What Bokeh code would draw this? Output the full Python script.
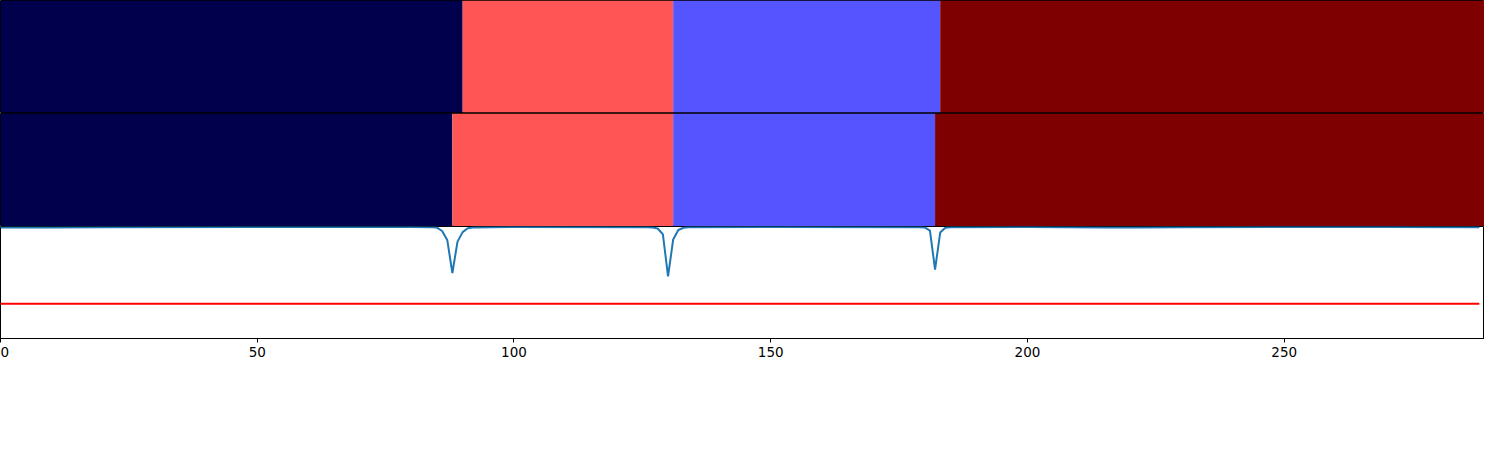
from bokeh.plotting import figure
from bokeh.layouts import column
from bokeh.models import ColumnDataSource, Range1d, FixedTicker
from bokeh.embed import file_html
from bokeh.resources import INLINE

# ---- data ----
row1_bounds = [0, 90, 131, 183, 289]
row2_bounds = [0, 88, 131, 182, 289]
seg_colors = ["#00004C", "#FF5555", "#5555FF", "#7F0000"]

line_x = [0, 10, 20, 60, 80, 84, 85, 86, 87, 88, 89, 90, 91, 92, 100,
          126, 127, 128, 129, 130, 131, 132, 133, 134, 150,
          179, 180, 181, 182, 183, 184, 185, 200, 215, 222, 230, 250, 270, 288]
line_y = [0.990, 0.991, 0.994, 0.995, 0.995, 0.993, 0.990, 0.960, 0.880, 0.585, 0.865, 0.950, 0.985, 0.992, 0.995,
          0.994, 0.991, 0.982, 0.929, 0.554, 0.884, 0.969, 0.989, 0.993, 0.995,
          0.994, 0.992, 0.964, 0.616, 0.946, 0.989, 0.993, 0.995, 0.992, 0.990, 0.993, 0.995, 0.995, 0.994]
thresh_x = [0, 288]
thresh_y = [0.31, 0.31]
x_ticks = [0, 50, 100, 150, 200, 250]

W = 1484
xr = Range1d(0, 289)


def seg_fig(bounds, h, bottom_border):
    p = figure(width=W, height=h, x_range=xr, y_range=Range1d(0, 1),
               output_backend="svg", toolbar_location=None,
               min_border_left=0, min_border_right=0, min_border_top=0,
               min_border_bottom=bottom_border)
    src = ColumnDataSource(dict(left=bounds[:-1], right=bounds[1:], color=seg_colors))
    p.quad(left="left", right="right", bottom=0, top=1, fill_color="color",
           line_color=None, source=src)
    p.axis.visible = False
    p.grid.visible = False
    p.outline_line_color = "black"
    p.outline_line_width = 1
    p.background_fill_color = "white"
    p.border_fill_color = "white"
    return p


p1 = seg_fig(row1_bounds, 113, 1)
p2 = seg_fig(row2_bounds, 113, 0)

p3 = figure(width=W, height=208, x_range=xr, y_range=Range1d(0, 1),
            output_backend="svg", toolbar_location=None,
            min_border_left=0, min_border_right=0, min_border_top=0,
            min_border_bottom=96)
p3.line(line_x, line_y, line_color="#1f77b4", line_width=2)
p3.line(thresh_x, thresh_y, line_color="#ff0000", line_width=2)
p3.yaxis.visible = False
p3.grid.visible = False
p3.outline_line_color = "black"
p3.xaxis.ticker = FixedTicker(ticks=x_ticks)
p3.xaxis.minor_tick_line_color = None
p3.xaxis.major_tick_in = 0
p3.xaxis.major_tick_out = 4
p3.xaxis.major_tick_line_color = "black"
p3.xaxis.axis_line_color = "black"
p3.xaxis.major_label_standoff = 4
p3.xaxis.major_label_text_font = "DejaVu Sans"
p3.xaxis.major_label_text_font_size = "13.5px"
p3.xaxis.major_label_text_color = "black"

layout = column(p1, p2, p3, spacing=0)
open("out.html", "w").write(file_html(layout, INLINE))
